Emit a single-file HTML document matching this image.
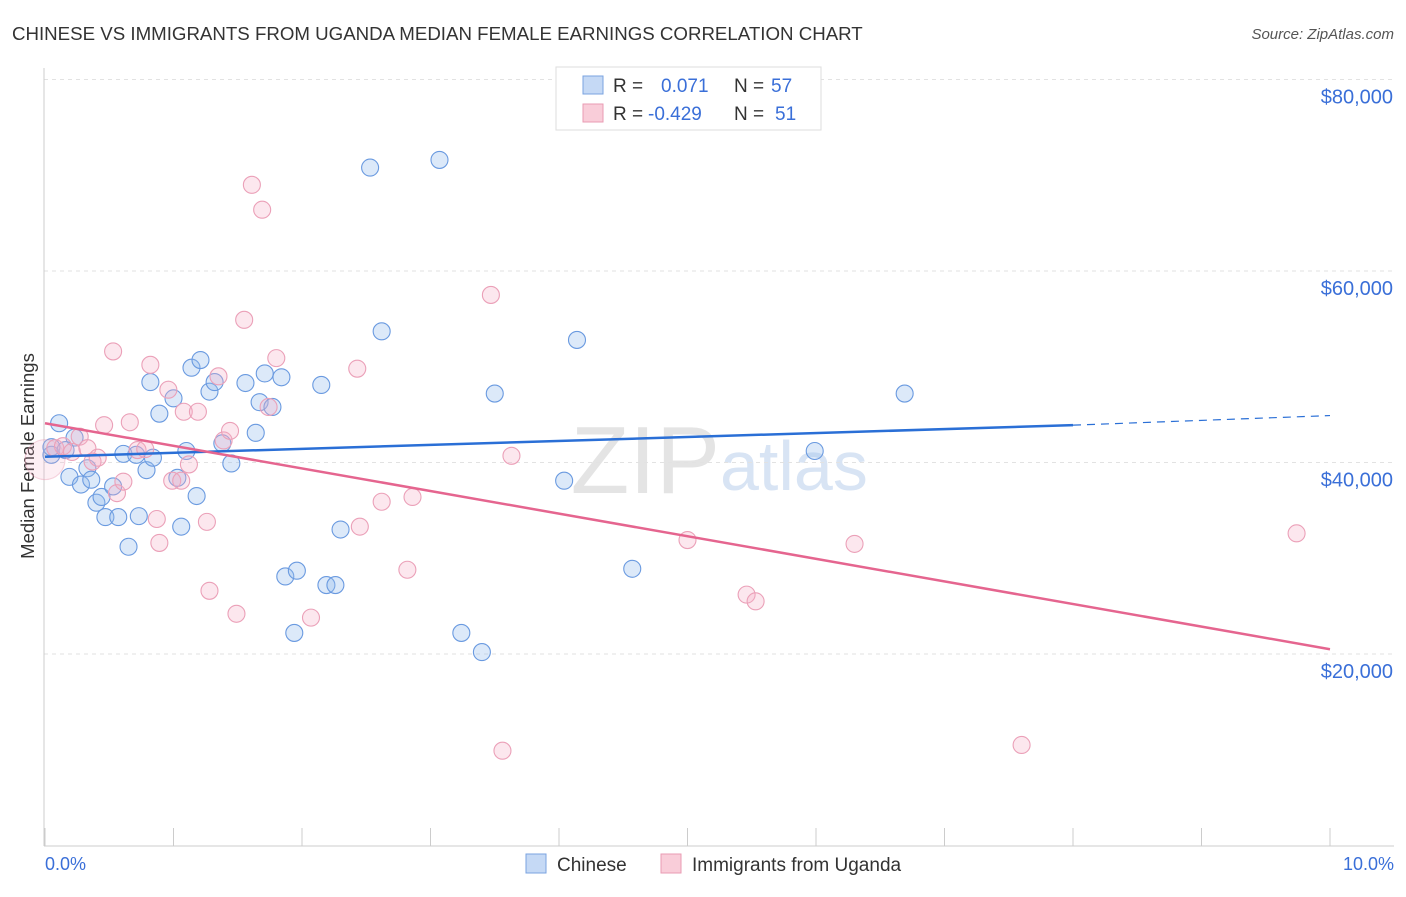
<!DOCTYPE html>
<html><head><meta charset="utf-8"><style>
body{margin:0;background:#fff;font-family:"Liberation Sans",sans-serif}
svg text{font-family:"Liberation Sans",sans-serif}
</style></head><body>
<svg width="1406" height="892" xmlns="http://www.w3.org/2000/svg">
<text x="12" y="40" font-size="18.7" fill="#333">CHINESE VS IMMIGRANTS FROM UGANDA MEDIAN FEMALE EARNINGS CORRELATION CHART</text>
<text x="1394" y="39" font-size="15" fill="#555" text-anchor="end" font-style="italic">Source: ZipAtlas.com</text>
<text x="720" y="493" font-size="96" fill="#e4e4e4" text-anchor="end" font-family="Liberation Serif">ZIP</text>
<text x="720" y="490" font-size="70" fill="#d8e4f4">atlas</text>
<g id="grid"></g>
<line x1="44" y1="68" x2="44" y2="846" stroke="#ccc"/>
<line x1="44" y1="846" x2="1394" y2="846" stroke="#ccc"/>
<g id="ticks"></g>
<text transform="translate(34,456) rotate(-90)" font-size="18.5" fill="#333" text-anchor="middle">Median Female Earnings</text>
<text x="45" y="870" font-size="18" fill="#3a6fd8">0.0%</text>
<text x="1394" y="870" font-size="18" fill="#3a6fd8" text-anchor="end">10.0%</text>
<g id="pts"></g>
<g id="lines"></g>
<g>
<rect x="556" y="67" width="265" height="63" fill="#fff" stroke="#ddd"/>
<rect x="583" y="76" width="20" height="18" fill="#c5d9f5" stroke="#7aa3e0"/>
<rect x="583" y="104" width="20" height="18" fill="#f9cdd9" stroke="#e99bb3"/>
<text x="613" y="92" font-size="19" fill="#333">R = <tspan fill="#3a6fd8" x="661">0.071</tspan><tspan fill="#333" x="734">N =</tspan><tspan fill="#3a6fd8" x="771">57</tspan></text>
<text x="613" y="120" font-size="19" fill="#333">R = <tspan fill="#3a6fd8" x="648">-0.429</tspan><tspan fill="#333" x="734">N =</tspan><tspan fill="#3a6fd8" x="775">51</tspan></text>
</g>
<g>
<rect x="526" y="854" width="20" height="19" fill="#c5d9f5" stroke="#7aa3e0"/>
<text x="557" y="871" font-size="19" fill="#333">Chinese</text>
<rect x="661" y="854" width="20" height="19" fill="#f9cdd9" stroke="#e99bb3"/>
<text x="692" y="871" font-size="19" fill="#333">Immigrants from Uganda</text>
</g>
</svg>
<script>
const yTicks=[20000,40000,60000,80000];
const yTickLabels=["$20,000","$40,000","$60,000","$80,000"];
const xTicks=[0,1,2,3,4,5,6,7,8,9,10];
const chineseX=[0.05,0.11,0.05,0.19,0.23,0.28,0.33,0.36,0.40,0.44,0.47,0.53,0.57,0.61,0.65,0.71,0.73,0.79,0.82,0.84,0.89,1.00,1.03,1.06,1.10,1.14,1.18,1.21,1.28,1.32,1.38,1.45,1.56,1.64,1.67,1.71,1.77,1.84,1.87,1.94,1.96,2.15,2.19,2.26,2.30,2.53,2.62,3.07,3.24,3.40,3.50,4.04,4.14,4.57,5.99,6.69,0.16];
const chineseY=[40.8,44.1,41.6,38.5,42.6,37.7,39.4,38.2,35.8,36.4,34.3,37.5,34.3,40.9,31.2,40.8,34.4,39.2,48.4,40.5,45.1,46.7,38.4,33.3,41.2,49.9,36.5,50.7,47.4,48.4,42.0,39.9,48.3,43.1,46.3,49.3,45.8,48.9,28.1,22.2,28.7,48.1,27.2,27.2,33.0,70.8,53.7,71.6,22.2,20.2,47.2,38.1,52.8,28.9,41.2,47.2,41.3];
const ugandaX=[0,0.08,0.14,0.21,0.27,0.33,0.37,0.41,0.46,0.53,0.56,0.61,0.66,0.72,0.78,0.82,0.87,0.89,0.96,0.99,1.06,1.08,1.12,1.19,1.26,1.28,1.35,1.39,1.44,1.49,1.55,1.61,1.69,1.74,1.80,2.07,2.43,2.45,2.62,2.82,2.86,3.47,3.56,3.63,5.00,5.46,5.53,6.30,7.60,9.74];
const ugandaY=[40.3,41.5,41.7,41.1,42.7,41.5,40.1,40.5,43.9,51.6,36.8,38.0,44.2,41.3,41.4,50.2,34.1,31.6,47.6,38.1,38.1,45.3,39.8,45.3,33.8,26.6,49.0,42.3,43.3,24.2,54.9,69.0,66.4,45.8,50.9,23.8,49.8,33.3,35.9,28.8,36.4,57.5,9.9,40.7,31.9,26.2,25.5,31.5,10.5,32.6];
const blueTrend=[40.6,43.9,44.9]; // at x=0, 8, 10
const pinkTrend=[44.1,20.5]; // at x=0, 10
const NS="http://www.w3.org/2000/svg";
const sx=v=>45+v*128.5;
const sy=v=>845.5-v/20000*191.5;
function mk(t,a,p){const e=document.createElementNS(NS,t);for(const k in a)e.setAttribute(k,a[k]);p.appendChild(e);return e;}
const grid=document.getElementById('grid'),ticks=document.getElementById('ticks'),pts=document.getElementById('pts'),lines=document.getElementById('lines');
yTicks.forEach((v,i)=>{
 const l=mk('line',{x1:44,x2:1394,y1:sy(v),y2:sy(v),stroke:'#e2e2e2','stroke-dasharray':'4,4'},grid);
 
 
 const t=mk('text',{x:1393,y:sy(v)+24,'font-size':20,fill:'#3a6fd8','text-anchor':'end'},grid);
 t.textContent=yTickLabels[i];
 
 
});
xTicks.forEach(v=>{
 const l=mk('line',{x1:sx(v),x2:sx(v),y1:828,y2:846,stroke:'#ccc'},ticks);
 
 
});
chineseX.forEach((x,i)=>{
 const c=mk('circle',{cx:sx(x),cy:sy(chineseY[i]*1000),r:8.5,fill:'rgba(150,188,238,0.33)',stroke:'#6a9ae0','stroke-width':1.1},pts);
 
 
});
ugandaX.forEach((x,i)=>{
 const c=mk('circle',{cx:sx(x),cy:sy(ugandaY[i]*1000),r:i==0?20:8.5,fill:i==0?'rgba(245,175,200,0.2)':'rgba(245,175,200,0.3)',stroke:i==0?'rgba(233,149,176,0.4)':'#eba0b8','stroke-width':1.1},pts);
 
 
});
let l1=mk('line',{x1:sx(0),y1:sy(blueTrend[0]*1000),x2:sx(8),y2:sy(blueTrend[1]*1000),stroke:'#2a6fd6','stroke-width':2.5},lines);


let l2=mk('line',{x1:sx(8),y1:sy(blueTrend[1]*1000),x2:sx(10),y2:sy(blueTrend[2]*1000),stroke:'#2a6fd6','stroke-width':1.2,'stroke-dasharray':'8,6'},lines);


let l3=mk('line',{x1:sx(0),y1:sy(pinkTrend[0]*1000),x2:sx(10),y2:sy(pinkTrend[1]*1000),stroke:'#e5658f','stroke-width':2.5},lines);


</script>
</body></html>
